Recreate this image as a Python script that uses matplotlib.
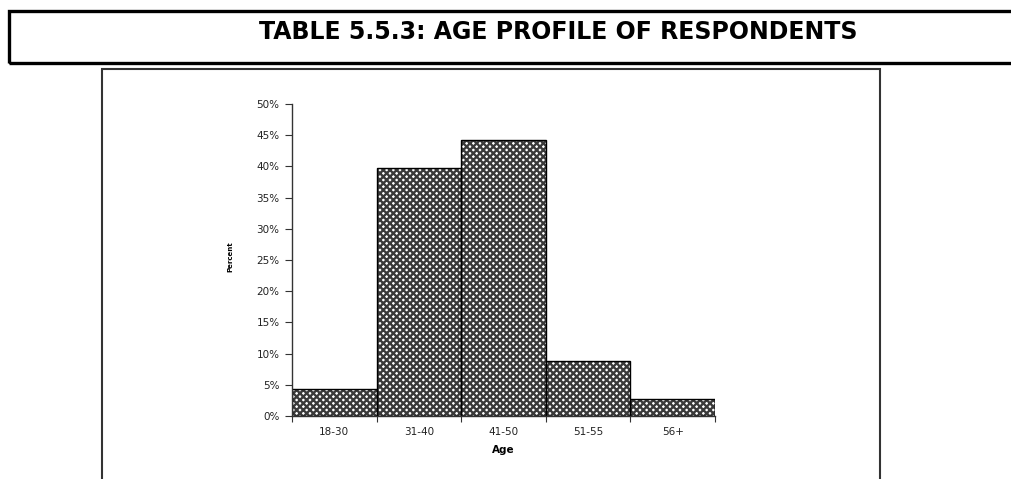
import matplotlib
matplotlib.use("Agg")
import matplotlib.pyplot as plt
from matplotlib.patches import Rectangle
from matplotlib.ticker import FuncFormatter, FixedLocator

# Age groups and share of respondents (fraction)
age_groups = ["18-30", "31-40", "41-50", "51-55", "56+"]
percent = [0.044, 0.397, 0.442, 0.088, 0.028]
y_ticks = [0.00, 0.05, 0.10, 0.15, 0.20, 0.25, 0.30, 0.35, 0.40, 0.45, 0.50]

plt.rcParams["font.family"] = ["DejaVu Sans"]
plt.rcParams["hatch.linewidth"] = 1.7

W, H = 1012, 479
fig = plt.figure(figsize=(W / 100, H / 100), dpi=100)

def fx(px):
    return px / W

def fy(py):
    return 1 - py / H

# Heading box (runs off the right edge of the page)
fig.add_artist(Rectangle((fx(9), fy(63)), fx(1020) - fx(9), fy(11) - fy(63),
                         transform=fig.transFigure, fill=False,
                         edgecolor="black", linewidth=2.4, clip_on=False))
fig.text(fx(558), fy(32), "TABLE 5.5.3: AGE PROFILE OF RESPONDENTS",
         ha="center", va="center", fontsize=17, fontweight="bold")

# Chart frame (open at the bottom of the page)
fig.add_artist(Rectangle((fx(102.5), fy(490)), fx(880) - fx(102.5), fy(69) - fy(490),
                         transform=fig.transFigure, fill=False,
                         edgecolor="#333333", linewidth=1.5, clip_on=False))

ax = fig.add_axes([fx(292), fy(416), fx(715) - fx(292), fy(104) - fy(416)])

x = list(range(len(age_groups)))
ax.bar(x, percent, width=1.0, align="edge", color="white",
       edgecolor="#3a3a3a", hatch="xxxxx", linewidth=0)
ax.bar(x, percent, width=1.0, align="edge", fill=False,
       edgecolor="black", linewidth=1.0)

ax.set_xlim(0, len(age_groups))
ax.set_ylim(0, 0.5)
ax.yaxis.set_major_locator(FixedLocator(y_ticks))
ax.yaxis.set_major_formatter(FuncFormatter(lambda v, p: f"{v * 100:.0f}%"))

ax.xaxis.set_major_locator(FixedLocator(list(range(len(age_groups) + 1))))
ax.xaxis.set_major_formatter(FuncFormatter(lambda v, p: ""))
ax.xaxis.set_minor_locator(FixedLocator([i + 0.5 for i in x]))
ax.set_xticklabels(age_groups, minor=True)

ax.tick_params(axis="y", direction="out", length=5, width=0.8, color="#333333",
               labelsize=7.5, pad=4, labelcolor="#222222")
ax.tick_params(axis="x", which="major", direction="out", length=4, width=0.8,
               color="#333333")
ax.tick_params(axis="x", which="minor", length=0, labelsize=7.5, pad=8,
               labelcolor="#222222")

for side in ("top", "right"):
    ax.spines[side].set_visible(False)
for side in ("left", "bottom"):
    ax.spines[side].set_color("#333333")
    ax.spines[side].set_linewidth(1.0)

ax.set_xlabel("Age", fontsize=7.5, fontweight="bold", labelpad=6)
fig.text(fx(230), fy(257), "Percent", rotation=90, ha="center", va="center",
         fontsize=5, fontweight="bold")

fig.savefig("out.png", dpi=100)
